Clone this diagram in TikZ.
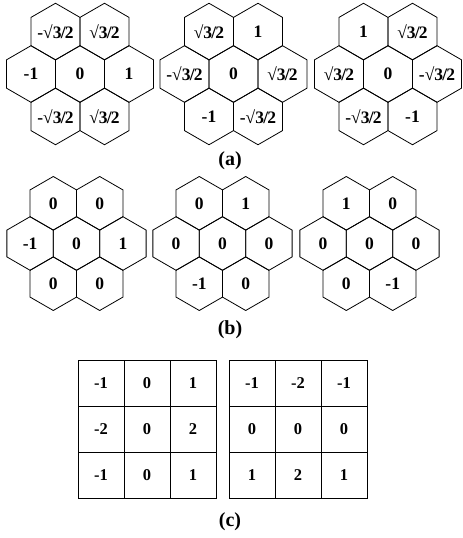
\documentclass[tikz,border=0pt]{standalone}
\usepackage{fontspec}
\setmainfont{Liberation Serif}
\newcommand\sq{√3\kern-0.8pt/\kern-0.8pt2}
\newcommand\msq{-\sq}
\tikzset{
  hexline/.style={draw=black, line width=0.8pt, line join=miter},
  lbl/.style={inner sep=0pt, font=\fontsize{17.5}{20}\selectfont\bfseries},
  cell/.style={draw=black, line width=0.8pt, minimum size=46pt, inner sep=0pt, font=\fontsize{16.5}{19}\selectfont\bfseries},
  captext/.style={inner sep=0pt, font=\fontsize{20}{23}\selectfont\bfseries}
}
\newcommand\cluster[5]{%
  \foreach \k/\a/\b/\t in {#5} {
    \pgfmathsetmacro\px{#2+\a*0.8660254*#4}
    \pgfmathsetmacro\py{#3+\b*#4}
    \draw[hexline] (\px,\py) +(90:#4) -- +(150:#4) -- +(210:#4) -- +(270:#4) -- +(330:#4) -- +(30:#4) -- cycle;
    \node[lbl] (#1-\k) at (\px,\py) {\t};
  }
}
\begin{document}
\begin{tikzpicture}[x=1pt,y=-1pt]
\path[use as bounding box] (0,0) rectangle (463,538);
% (a)
\cluster{a1}{80}{74}{28.3}{c/0/0/0, tl/-1/-1.5/\msq, tr/1/-1.5/\sq, l/-2/0/-1, r/2/0/1, bl/-1/1.5/\msq, br/1/1.5/\sq}
\cluster{a2}{233.5}{74}{28.3}{c/0/0/0, tl/-1/-1.5/\sq, tr/1/-1.5/1, l/-2/0/\msq, r/2/0/\sq, bl/-1/1.5/-1, br/1/1.5/\msq}
\cluster{a3}{388}{74}{28.3}{c/0/0/0, tl/-1/-1.5/1, tr/1/-1.5/\sq, l/-2/0/\sq, r/2/0/\msq, bl/-1/1.5/\msq, br/1/1.5/-1}
\node[captext] (capa) at (230,161) {(a)};
% (b)
\cluster{b1}{76.5}{243.5}{26.8}{c/0/0/0, tl/-1/-1.5/0, tr/1/-1.5/0, l/-2/0/-1, r/2/0/1, bl/-1/1.5/0, br/1/1.5/0}
\cluster{b2}{222.5}{243.5}{26.8}{c/0/0/0, tl/-1/-1.5/0, tr/1/-1.5/1, l/-2/0/0, r/2/0/0, bl/-1/1.5/-1, br/1/1.5/0}
\cluster{b3}{369.5}{243.5}{26.8}{c/0/0/0, tl/-1/-1.5/1, tr/1/-1.5/0, l/-2/0/0, r/2/0/0, bl/-1/1.5/0, br/1/1.5/-1}
\node[captext] (capb) at (230,330) {(b)};
% (c)
\foreach \v [count=\i from 0] in {-1,0,1,-2,0,2,-1,0,1} {
  \pgfmathtruncatemacro\col{mod(\i,3)}
  \pgfmathtruncatemacro\row{div(\i,3)}
  \node[cell] (gx-\i) at (101+46*\col, 383+46*\row) {\v};
}
\foreach \v [count=\i from 0] in {-1,-2,-1,0,0,0,1,2,1} {
  \pgfmathtruncatemacro\col{mod(\i,3)}
  \pgfmathtruncatemacro\row{div(\i,3)}
  \node[cell] (gy-\i) at (252+46*\col, 383+46*\row) {\v};
}
\node[captext] (capc) at (230,522) {(c)};
\end{tikzpicture}
\end{document}
